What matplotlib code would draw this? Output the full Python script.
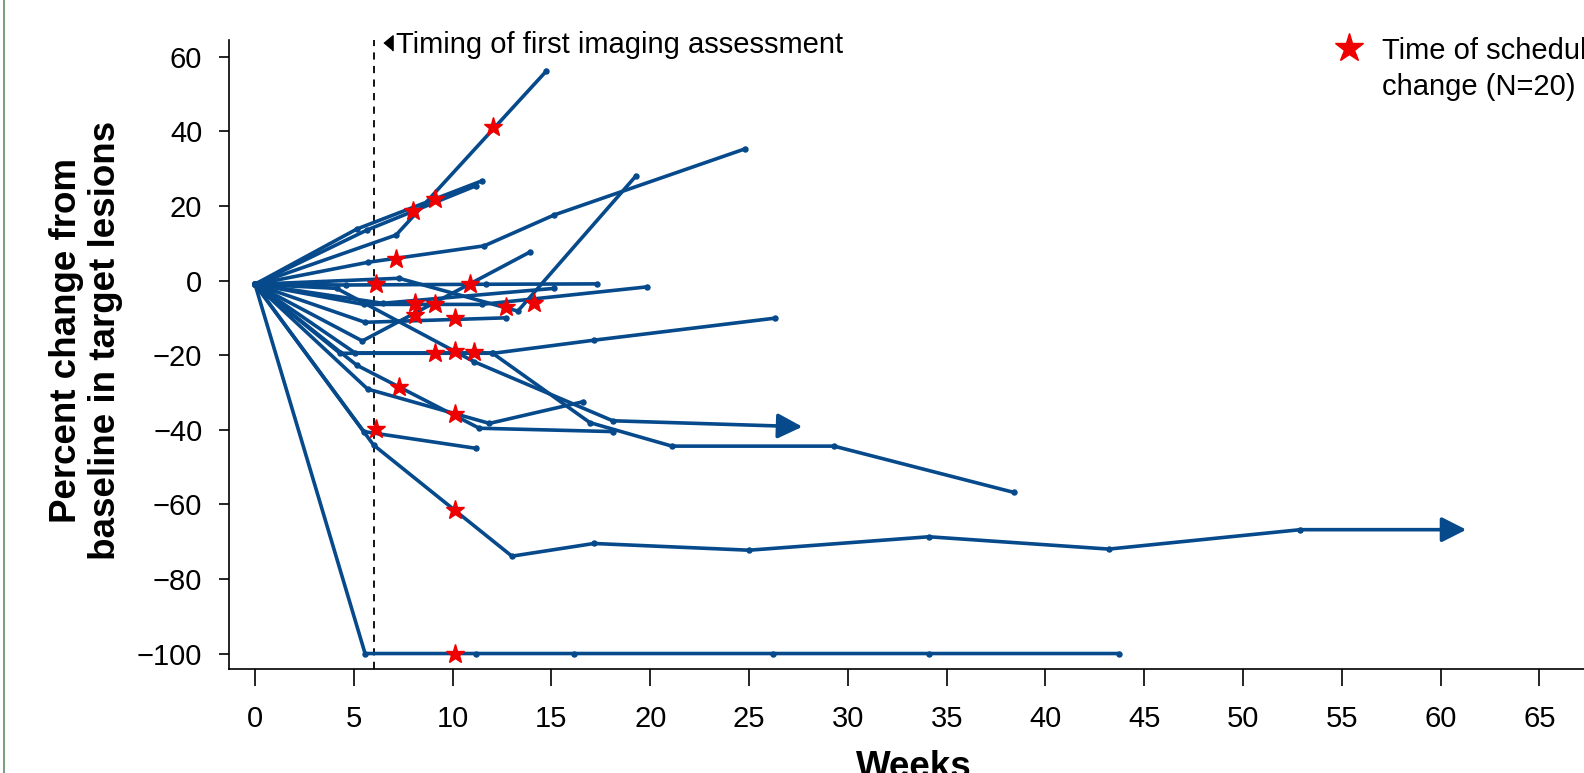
import matplotlib
matplotlib.use("Agg")
import matplotlib.pyplot as plt
from matplotlib.lines import Line2D

plt.rcParams["font.family"] = ["Liberation Sans", "DejaVu Sans"]
BLUE, RED = "#064a8c", "#ee0000"

# per-patient trajectories: weeks on study vs % change in target lesions
weeks = [
    [0, 7.14, 14.75],
    [0, 5.15, 11.47],
    [0, 5.65, 11.18],
    [0, 5.73, 11.6, 15.15, 24.8],
    [0, 7.29, 13.3, 19.27],
    [0, 5.43, 13.9],
    [0, 4.6, 11.7, 17.3],
    [0, 6.46, 15.15],
    [0, 5.5, 11.47, 19.85],
    [0, 5.57, 12.7],
    [0, 4.3, 12.06, 17.15, 26.3],
    [0, 5.06, 12.0, 16.95, 21.1, 29.3, 38.4],
    [0, 4.13, 11.1, 18.1, 27.7],
    [0, 5.15, 11.35, 18.1],
    [0, 5.7, 11.86, 16.6],
    [0, 5.5, 11.2],
    [0, 6.0, 13.0, 17.15, 25.0, 34.1, 43.2, 52.9, 61.3],
    [0, 5.57, 11.2, 16.15, 26.2, 34.1, 43.7],
]
pct = [
    [-1, 12.2, 56.2],
    [-1, 13.8, 26.7],
    [-1, 13.5, 25.4],
    [-1, 4.9, 9.3, 17.6, 35.3],
    [-1, 0.6, -8.2, 28.0],
    [-1, -16.2, 7.6],
    [-1, -1.2, -1.0, -0.9],
    [-1, -6.1, -2.1],
    [-1, -6.4, -6.4, -1.7],
    [-1, -11.2, -10.0],
    [-1, -19.5, -19.5, -16.0, -10.1],
    [-1, -19.4, -19.4, -38.1, -44.4, -44.4, -56.8],
    [-1, -2.1, -21.8, -37.6, -39.2],
    [-1, -22.7, -39.6, -40.5],
    [-1, -29.1, -38.3, -32.5],
    [-1, -40.5, -45.0],
    [-1, -44.1, -73.9, -70.5, -72.3, -68.7, -72.0, -66.8, -66.8],
    [-1, -100, -100, -100, -100, -100, -100],
]
ongoing = [12, 16]  # last segment drawn as an arrow

star_wk = [12.05, 8.0, 9.1, 7.12, 6.1, 10.9, 8.1, 9.1, 8.1, 10.1,
           12.7, 14.1, 9.1, 10.1, 11.1, 7.3, 10.1, 6.1, 10.1, 10.1]
star_pct = [41.1, 18.7, 21.8, 5.8, -0.9, -0.9, -6.1, -6.3, -9.3, -10.1,
            -7.0, -6.0, -19.5, -18.8, -19.1, -28.6, -35.8, -39.8, -61.5, -100]

first_scan = 6.0

fig = plt.figure(figsize=(15.84, 7.73), dpi=100)
ax = fig.add_axes([0.1444, 0.1345, 0.8649, 0.8132])

for i, (w, p) in enumerate(zip(weeks, pct)):
    if i in ongoing:
        ax.plot(w[:-1], p[:-1], color=BLUE, lw=2.6, marker="o", ms=3.6)
        ax.annotate("", xy=(w[-1], p[-1]), xytext=(w[-2], p[-2]),
                    arrowprops=dict(arrowstyle="-|>,head_length=0.75,head_width=0.38",
                                    color=BLUE, lw=2.6, mutation_scale=20,
                                    shrinkA=0, shrinkB=0))
    else:
        ax.plot(w, p, color=BLUE, lw=2.6, marker="o", ms=3.6)

ax.plot(star_wk, star_pct, ls="none", marker="*", ms=14, color=RED,
        markeredgecolor=RED, zorder=5)

ax.axvline(first_scan, color="black", lw=1.3, ls=(0, (4, 3.5)), zorder=1)
ax.plot([6.75], [63.7], marker=[(-0.6, 0), (0.6, 1), (0.6, -1)], ms=11,
        color="black", clip_on=False)
ax.text(7.15, 61.1, "Timing of first imaging assessment", fontsize=21,
        va="baseline", ha="left")

ax.set_xlim(-1.33, 68)
ax.set_ylim(-104.16, 64.37)
ax.set_xticks(range(0, 70, 5))
ax.set_yticks(range(-100, 61, 20))
ax.spines[["top", "right"]].set_visible(False)
for s in ["left", "bottom"]:
    ax.spines[s].set_linewidth(1.2)
ax.tick_params(axis="x", length=12, width=1.2, pad=14, labelsize=21)
ax.tick_params(axis="y", length=7, width=1.2, pad=12, labelsize=21)

ax.set_xlabel("Weeks", fontsize=26.5, fontweight="bold", labelpad=12)
ax.set_ylabel("Percent change from\nbaseline in target lesions",
              fontsize=26.5, fontweight="bold", linespacing=1.15)
ax.yaxis.set_label_coords(-0.077, 0.523)

# legend, placed by hand (star sits next to the first line)
fig.add_artist(Line2D([1348.6 / 1584], [1 - 48 / 773], marker="*", ms=21,
                      color=RED, ls="none"))
fig.text(1382 / 1584, 1 - 37 / 773, "Time of schedule\nchange (N=20)",
         fontsize=21, va="top", ha="left", linespacing=1.38)

fig.add_artist(Line2D([4 / 1584, 4 / 1584], [0, 1], color="#5f8f68", lw=1.2))

fig.savefig("out.png", dpi=100)
